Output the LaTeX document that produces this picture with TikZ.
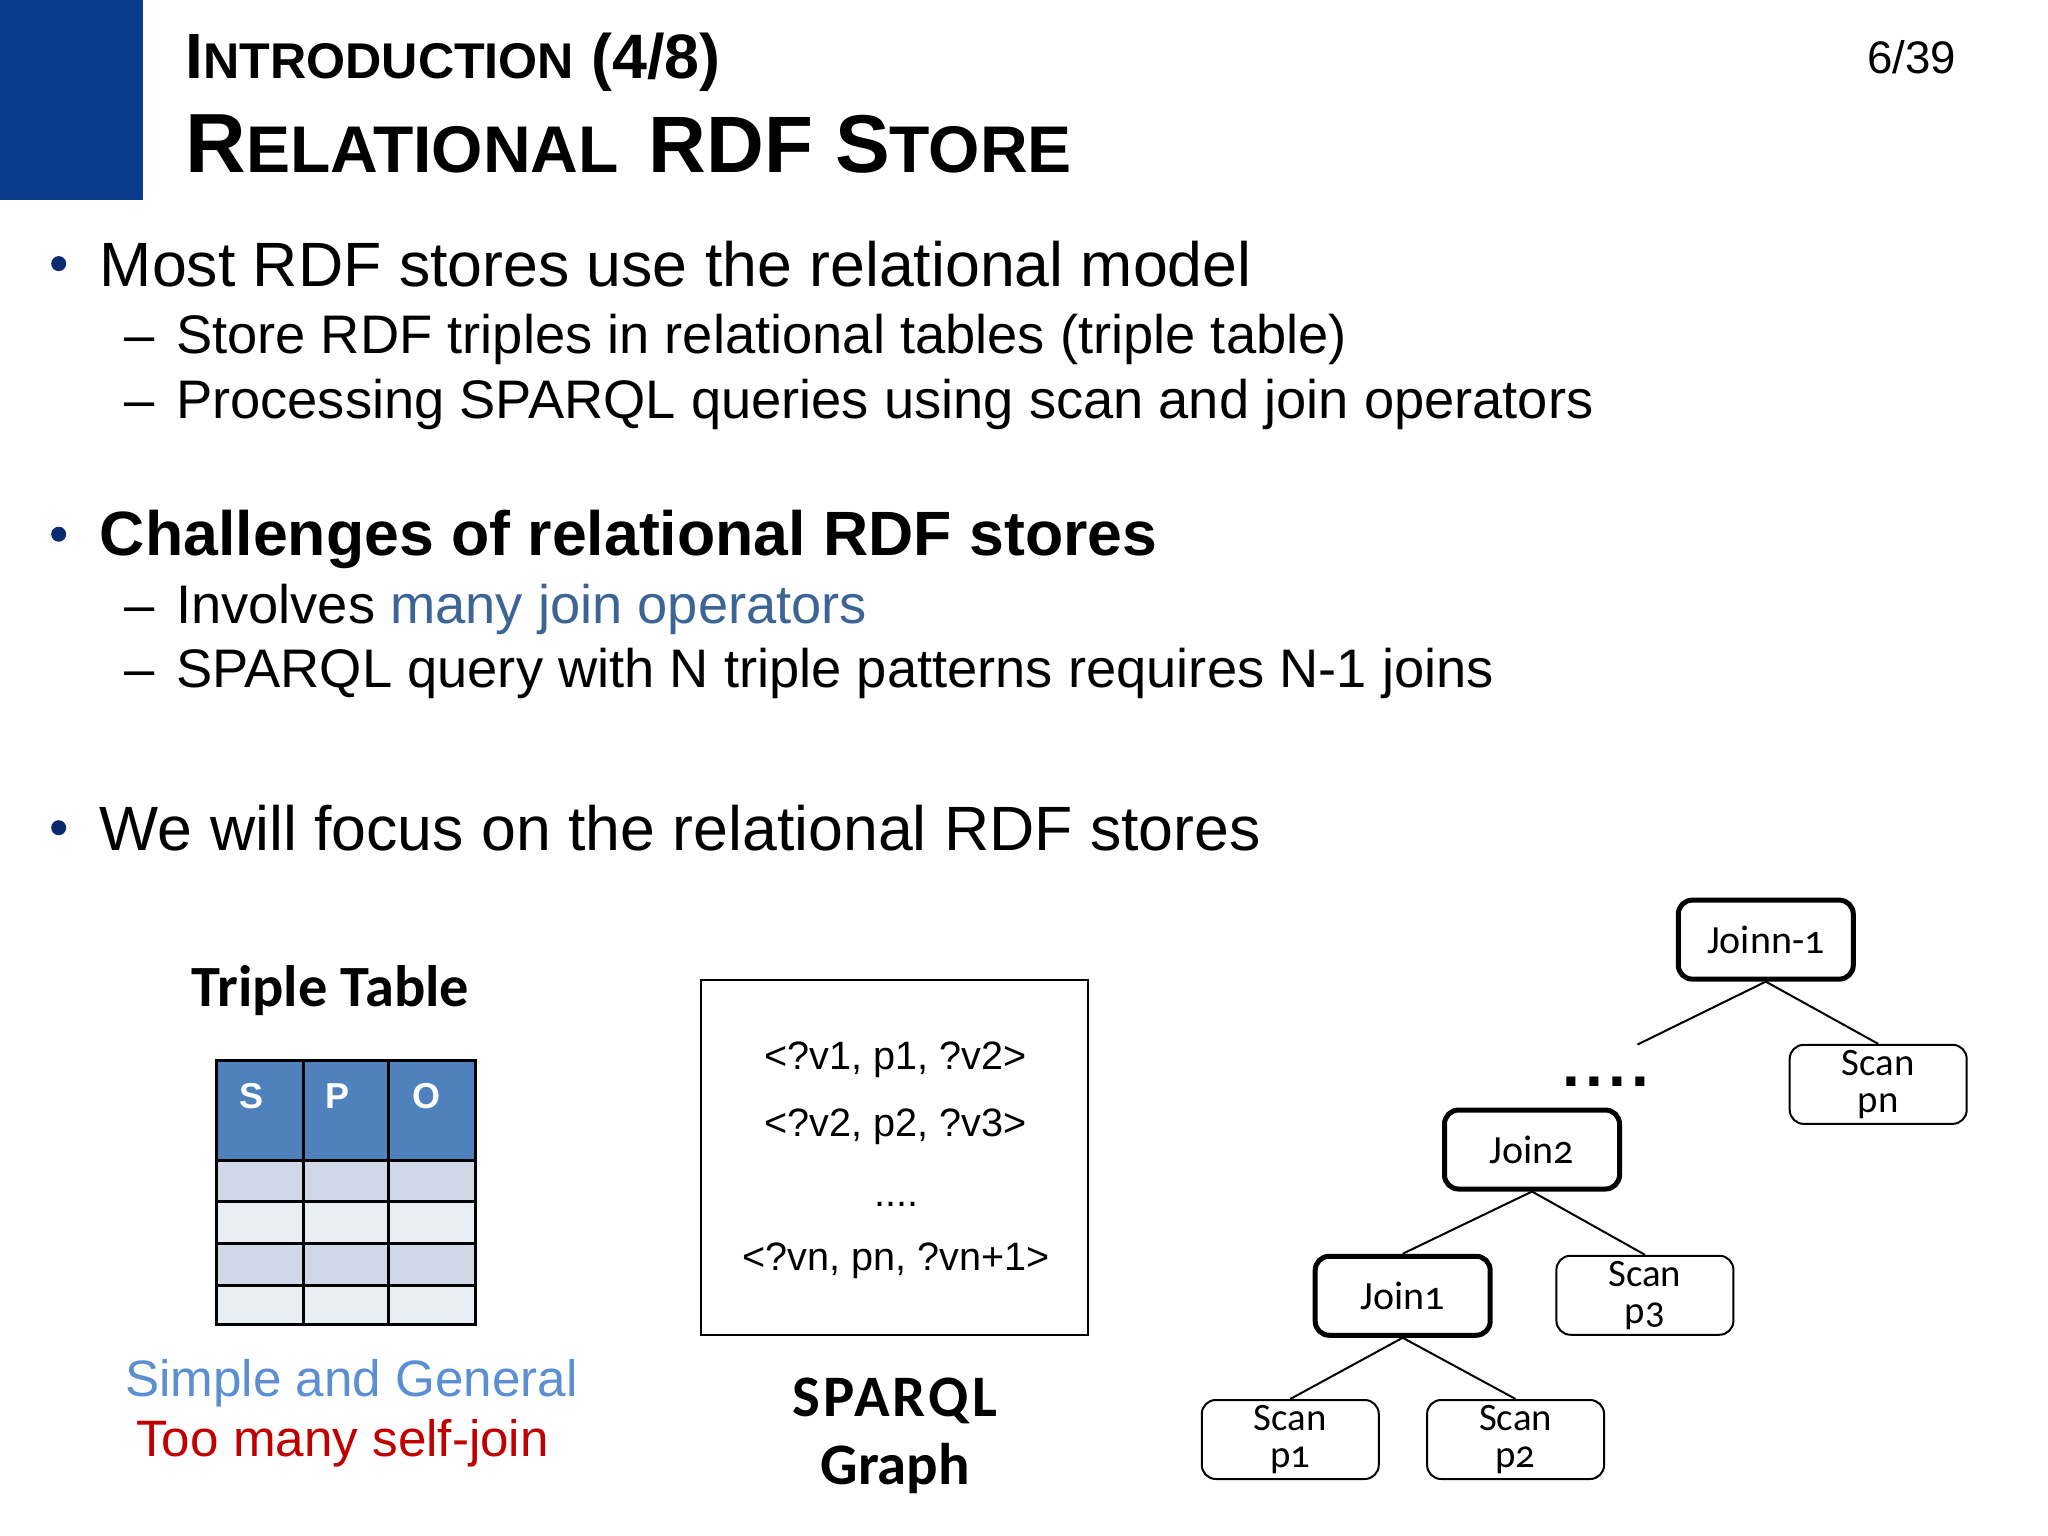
\documentclass[tikz,border=0pt]{standalone}
\usepackage{fontspec}
\setmainfont{Liberation Sans}
\newfontfamily\calib[Numbers=OldStyle]{Carlito}
\newcommand{\fsz}[1]{\fontsize{#1}{#1}\selectfont}
\newcommand{\opfont}{\calib\fontsize{19.4}{18.5}\selectfont}
\definecolor{hdrblue}{HTML}{0B3C8C}
\definecolor{bulletblue}{HTML}{0B2A6F}
\definecolor{linkblue}{HTML}{3C6595}
\definecolor{lightblue}{HTML}{5B8FD2}
\definecolor{darkred}{HTML}{C00000}
\definecolor{thead}{HTML}{4F81BD}
\definecolor{todd}{HTML}{D0D8E8}
\definecolor{teven}{HTML}{E9EDF4}
\tikzset{
  txt/.style={anchor=base west,inner sep=0pt,outer sep=0pt,text=black},
  ctr/.style={anchor=base,inner sep=0pt,outer sep=0pt,text=black},
  lvlone/.style={txt,font=\fsz{31.3}},
  lvltwo/.style={txt,font=\fsz{27.15}},
  bull/.style={circle,fill=bulletblue,minimum size=7.5pt,inner sep=0pt},
  opbox/.style={draw=black,rounded corners=7pt,line width=1pt,minimum width=88.5pt,minimum height=39.5pt,inner sep=0pt,align=center,font=\opfont,fill=white},
  joinbox/.style={opbox,line width=2.5pt,minimum width=87.5pt,minimum height=39.5pt,font=\calib\fsz{20}},
  conn/.style={line width=1pt,draw=black},
  cell/.style={draw=black,line width=1.5pt},
}
\begin{document}
\begin{tikzpicture}[x=0.4974pt,y=-0.4974pt]
\useasboundingbox (0,0) rectangle (2058.7,1544);
\fill[hdrblue] (0,0) rectangle (144,201);
% titles
\node[txt,font=\bfseries] (t1) at (186.5,79) {{\fsz{32}I}{\fsz{25.1}NTRODUCTION}\hspace{8.5pt}{\fsz{31.4}(4/8)}};
\node[txt,font=\bfseries] (t2) at (186.5,173.5) {{\fsz{42}R}{\fsz{33}ELATIONAL}\hspace{14.9pt}{\fsz{40}RDF}\hspace{11pt}{\fsz{41}S}{\fsz{33}TORE}};
\node[txt,font=\fsz{22.8}] (pg) at (1877,74) {6/39};
% body
\node[bull] (b1) at (59,265) {};
\node[lvlone] (l1) at (100.5,287.5) {Most RDF stores use the relational model};
\node[lvltwo] (d1) at (125.5,355) {–};
\node[lvltwo] (l2) at (177,355) {Store RDF triples in relational tables (triple table)};
\node[lvltwo] (d2) at (125.5,420.5) {–};
\node[lvltwo] (l3) at (177,420.5) {Processing SPARQL queries using scan and join operators};
\node[bull] (b2) at (59,537) {};
\node[lvlone,font=\fsz{31.3}\bfseries] (l4) at (100.5,558.5) {Challenges of relational RDF stores};
\node[lvltwo] (d3) at (125.5,627) {–};
\node[lvltwo] (l5) at (177,627) {Involves \textcolor{linkblue}{many join operators}};
\node[lvltwo] (d4) at (125.5,691.5) {–};
\node[lvltwo] (l6) at (177,691.5) {SPARQL query with N triple patterns requires N-1 joins};
\node[bull] (b3) at (59,832) {};
\node[lvlone] (l7) at (100.5,854.5) {We will focus on the relational RDF stores};
% triple table
\node[ctr,font=\calib\bfseries\fsz{29.2}] (tt) at (332,1012) {Triple Table};
\fill[thead] (218,1066) rectangle (478,1167);
\fill[todd] (218,1167) rectangle (478,1208);
\fill[teven] (218,1208) rectangle (478,1250);
\fill[todd] (218,1250) rectangle (478,1292);
\fill[teven] (218,1292) rectangle (478,1331);
\draw[cell] (218,1066) rectangle (478,1331);
\foreach \xx in {305,391} \draw[cell] (\xx,1066) -- (\xx,1331);
\foreach \yy in {1167,1208,1250,1292} \draw[cell] (218,\yy) -- (478,\yy);
\node[ctr,font=\bfseries\fsz{18},text=white] (hs) at (253,1114) {S};
\node[ctr,font=\bfseries\fsz{18},text=white] (hp) at (339.5,1114) {P};
\node[ctr,font=\bfseries\fsz{18},text=white] (ho) at (428.5,1114) {O};
\node[txt,font=\fsz{25.6},text=lightblue] (sg) at (126,1403.5) {Simple and General};
\node[txt,font=\fsz{25.6},text=darkred] (tm) at (137,1464.5) {Too many self-join};
% sparql box
\draw[line width=1pt] (705,985) rectangle (1094,1342);
\node[ctr,font=\fsz{19.8}] (q1) at (900.5,1075.5) {<?v1, p1, ?v2>};
\node[ctr,font=\fsz{19.8}] (q2) at (900.5,1142.5) {<?v2, p2, ?v3>};
\node[ctr,font=\fsz{19.8}] (q3) at (901,1213) {....};
\node[ctr,font=\fsz{19.8}] (q4) at (900.5,1277.5) {<?vn, pn, ?vn+1>};
\node[ctr,font=\calib\bfseries\fsz{29.4}\addfontfeature{LetterSpace=5.5}] (sq) at (899.5,1423.5) {SPARQL};
\node[ctr,font=\calib\bfseries\fsz{29.4}] (gr) at (900,1492.5) {Graph};
% plan tree
\node[joinbox] (jn) at (1775,944.5) {Joinn-1};
\node[opbox] (sn) at (1888,1090) {Scan\\pn};
\node[joinbox] (j2) at (1540,1155.5) {Join2};
\node[opbox] (s3) at (1653.5,1302) {Scan\\p3};
\node[joinbox] (j1) at (1410,1302.5) {Join1};
\node[opbox] (s1) at (1297,1447) {Scan\\p1};
\node[opbox] (s2) at (1523.5,1447) {Scan\\p2};
\coordinate (free) at (1646,1050);
\draw[conn] (jn.south) -- (free);
\draw[conn] (jn.south) -- (sn.north);
\draw[conn] (j2.south) -- (j1.north);
\draw[conn] (j2.south) -- (s3.north);
\draw[conn] (j1.south) -- (s1.north);
\draw[conn] (j1.south) -- (s2.north);
\node[ctr,font=\bfseries\fsz{32}\addfontfeature{LetterSpace=8}] (dots) at (1614,1092) {....};
\end{tikzpicture}
\end{document}
